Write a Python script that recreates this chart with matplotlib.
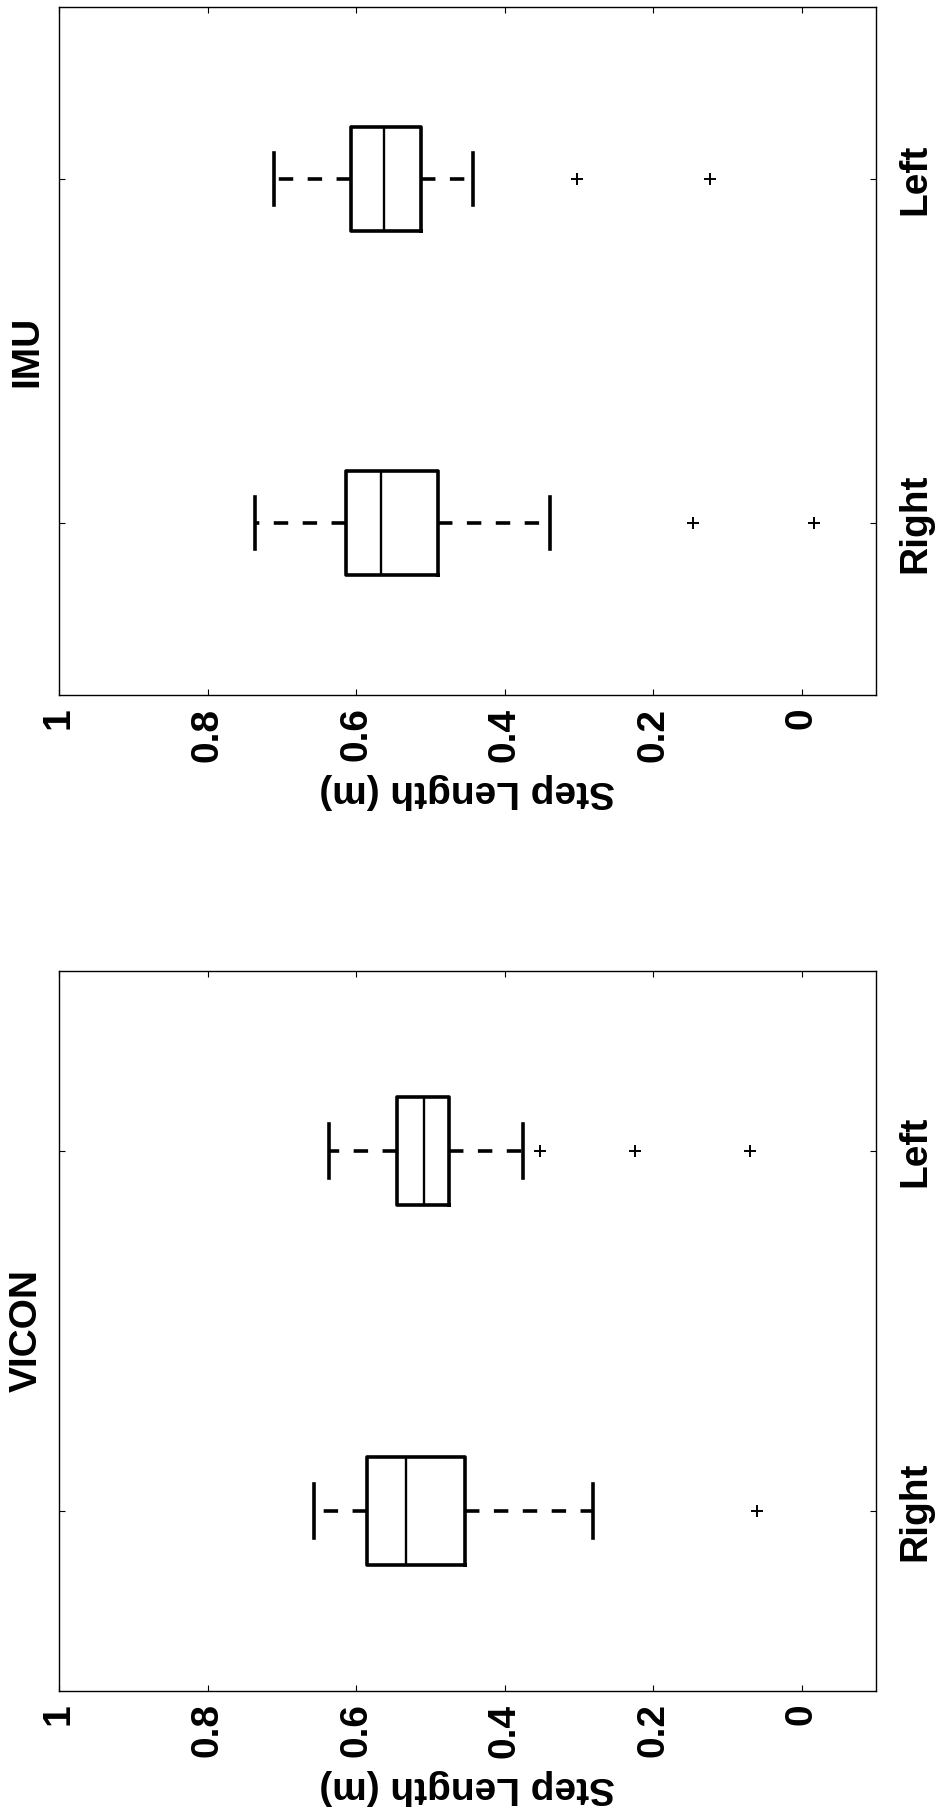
import matplotlib
matplotlib.use('Agg')
import matplotlib.pyplot as plt

plt.rcParams['font.family'] = ['Liberation Sans', 'DejaVu Sans']

# ---- data ----
categories = ['Right', 'Left']
positions = [1, 2]
tick_vals = [1.0, 0.8, 0.6, 0.4, 0.2, 0.0]
tick_labels = ['1', '0.8', '0.6', '0.4', '0.2', '0']

imu_whislo = [0.339, 0.443]
imu_q1 = [0.490, 0.513]
imu_med = [0.566, 0.563]
imu_q3 = [0.613, 0.607]
imu_whishi = [0.736, 0.711]
imu_fliers = [[0.147, -0.016], [0.303, 0.124]]

vicon_whislo = [0.281, 0.376]
vicon_q1 = [0.454, 0.475]
vicon_med = [0.533, 0.509]
vicon_q3 = [0.586, 0.545]
vicon_whishi = [0.657, 0.637]
vicon_fliers = [[0.060], [0.353, 0.224, 0.070]]

titles = ['IMU', 'VICON']
ylabel = 'Step Length (m)'

fig = plt.figure(figsize=(9.36, 18.11), dpi=100)

panels = [
    (titles[0], [0.063, 0.6162, 0.873, 0.380],
     imu_whislo, imu_q1, imu_med, imu_q3, imu_whishi, imu_fliers),
    (titles[1], [0.063, 0.0663, 0.873, 0.3976],
     vicon_whislo, vicon_q1, vicon_med, vicon_q3, vicon_whishi, vicon_fliers),
]

FS = 28
for name, rect, wl, q1, med, q3, wh, fl in panels:
    ax = fig.add_axes(rect)
    stats = []
    for i, cat in enumerate(categories):
        stats.append(dict(med=med[i], q1=q1[i], q3=q3[i], whislo=wl[i],
                          whishi=wh[i], fliers=fl[i], label=cat))
    ax.bxp(stats, positions=positions, widths=0.3, capwidths=0.15,
           orientation='horizontal', showfliers=True,
           boxprops=dict(color='black', linewidth=2.6),
           medianprops=dict(color='black', linewidth=1.7),
           whiskerprops=dict(color='black', linewidth=2.6, linestyle=(0, (4, 4))),
           capprops=dict(color='black', linewidth=2.6),
           flierprops=dict(marker='+', markeredgecolor='black', markersize=8,
                           markeredgewidth=1.4, linestyle='none'))
    ax.set_xlim(1, -0.1)
    ax.set_ylim(0.5, 2.5)
    ax.set_xticks(tick_vals)
    ax.set_xticklabels(tick_labels, rotation=90, fontsize=FS, fontweight='bold')
    ax.set_yticks(positions)
    ax.set_yticklabels(categories, rotation=90, va='center', fontsize=FS,
                       fontweight='bold')
    ax.tick_params(axis='both', direction='in', length=4, width=0.8,
                   top=True, bottom=True, left=True, right=True,
                   labelleft=False, labelright=True, labelbottom=True,
                   labeltop=False)
    ax.tick_params(axis='x', pad=9)
    ax.tick_params(axis='y', pad=15)
    ax.set_xlabel(ylabel, rotation=180, fontsize=FS, fontweight='bold',
                  labelpad=8)
    for sp in ax.spines.values():
        sp.set_linewidth(1.0)
    ax.text(-0.017, 0.5, name, transform=ax.transAxes, rotation=90,
            ha='right', va='center', fontsize=FS, fontweight='bold')

fig.savefig('out.png', dpi=100, facecolor='white')
